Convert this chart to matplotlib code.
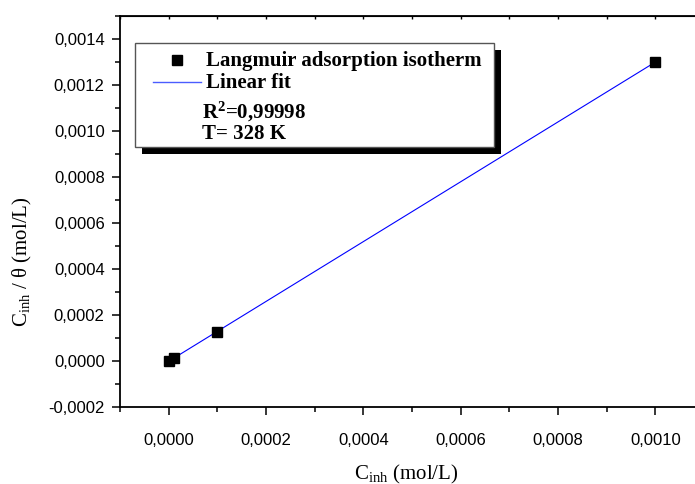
import numpy as np
import matplotlib
matplotlib.use("Agg")
import matplotlib.pyplot as plt
from matplotlib.ticker import MultipleLocator, FuncFormatter
from matplotlib.patches import Rectangle
from matplotlib.lines import Line2D

# data
c_inh = [0.000001, 0.00001, 0.0001, 0.001]
c_over_theta = [0.0000015, 0.0000135, 0.000125, 0.0013]
r2_text = r"R$^{\mathbf{2}}$=0,99998"
temp_text = "T= 328 K"

plt.rcParams['mathtext.fontset'] = 'custom'
plt.rcParams['mathtext.rm'] = 'Liberation Serif'
plt.rcParams['mathtext.it'] = 'Liberation Serif'
plt.rcParams['mathtext.bf'] = 'Liberation Serif:bold'

W, H = 695, 484
fig = plt.figure(figsize=(W / 100, H / 100), dpi=100)
# axes: x from px 120 to 704, y from px 16 to 407
ax = fig.add_axes([120 / W, (H - 407) / H, 584 / W, 391 / H])

slope, intercept = np.polyfit(c_inh, c_over_theta, 1)
xfit = np.array([c_inh[0], c_inh[-1]])
ax.plot(xfit, slope * xfit + intercept, color='blue', lw=0.8, zorder=2)
ax.plot(c_inh, c_over_theta, 's', color='black', ms=7, zorder=3)

ax.set_xlim(-0.0001, 0.0011)
ax.set_ylim(-0.0002, 0.0015)

fmt = FuncFormatter(lambda v, p: f"{v:.4f}".replace('.', ','))
ax.xaxis.set_major_locator(MultipleLocator(0.0002))
ax.xaxis.set_minor_locator(MultipleLocator(0.0001))
ax.yaxis.set_major_locator(MultipleLocator(0.0002))
ax.yaxis.set_minor_locator(MultipleLocator(0.0001))
ax.xaxis.set_major_formatter(fmt)
ax.yaxis.set_major_formatter(fmt)
ax.tick_params(which='major', direction='out', length=6, width=1.1,
               labelsize=12, labelfontfamily='Liberation Sans')
ax.tick_params(which='minor', direction='out', length=3.5, width=1.1)
ax.tick_params(axis='x', pad=13)
ax.tick_params(axis='y', pad=5)
for s in ax.spines.values():
    s.set_linewidth(1.3)

top = ax.secondary_xaxis('top')
top.xaxis.set_major_locator(MultipleLocator(0.0002))
top.xaxis.set_minor_locator(MultipleLocator(0.0001))
top.tick_params(which='both', direction='in', length=2.5, width=1.0, labeltop=False)

fig.text(406 / W, (H - 474) / H, r"C$_{\mathrm{inh}}$ (mol/L)", ha='center', va='center',
         fontsize=15, family='Liberation Serif')
fig.text(22 / W, (H - 262) / H, r"C$_{\mathrm{inh}}$ / θ (mol/L)", ha='center', va='center',
         rotation=90, fontsize=15, family='Liberation Serif')

# legend box with black shadow (pixel coords converted to figure fraction)
def fx(px):
    return px / W

def fy(py):
    return (H - py) / H

fig.add_artist(Rectangle((fx(142), fy(154)), fx(501) - fx(142), fy(50) - fy(154),
                         transform=fig.transFigure, facecolor='black', edgecolor='none', zorder=5))
fig.add_artist(Rectangle((fx(135), fy(147)), fx(494) - fx(135), fy(43) - fy(147),
                         transform=fig.transFigure, facecolor='white', edgecolor='#555555',
                         lw=1.0, zorder=6))
fig.add_artist(Line2D([fx(177)], [fy(60)], marker='s', color='black', ms=7,
                      transform=fig.transFigure, zorder=7))
fig.add_artist(Line2D([fx(153), fx(201)], [fy(82), fy(82)], color='#4b5cff', lw=1.0,
                      transform=fig.transFigure, zorder=7))
tkw = dict(fontsize=15, fontweight='bold', family='Liberation Serif', va='center',
           ha='left', zorder=8)
fig.text(fx(206), fy(61), "Langmuir adsorption isotherm", **tkw)
fig.text(fx(206), fy(83), "Linear fit", **tkw)
fig.text(fx(202), fy(112), r2_text, **tkw)
fig.text(fx(202), fy(134), temp_text, **tkw)

fig.savefig("out.png", dpi=100)
